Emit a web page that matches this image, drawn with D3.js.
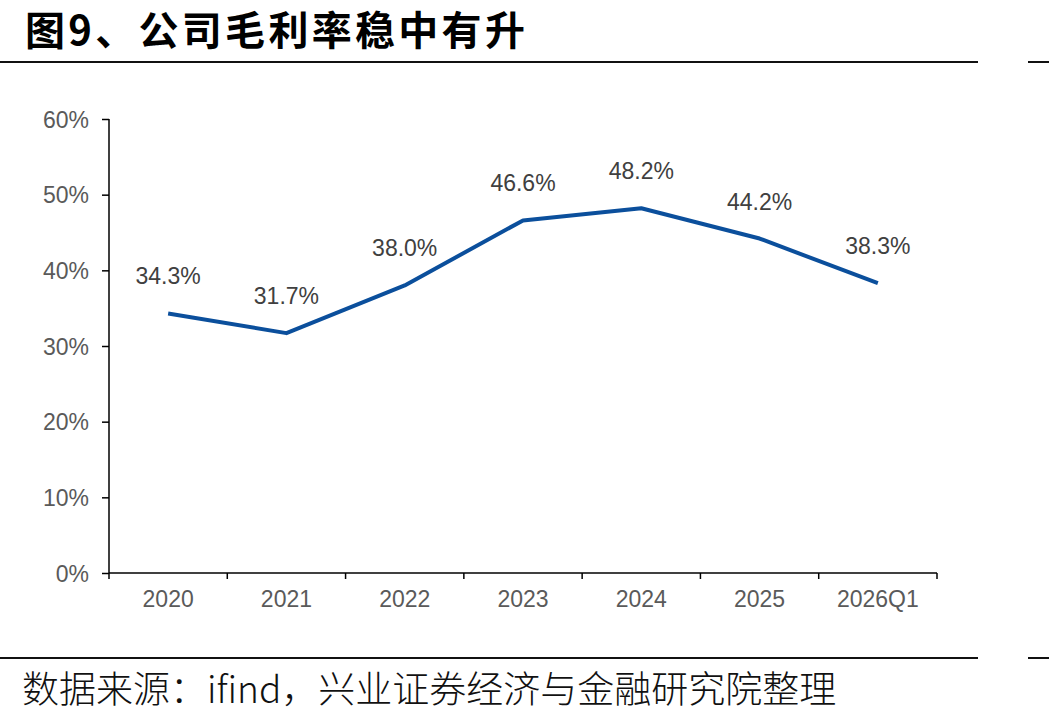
<!DOCTYPE html>
<html><head><meta charset="utf-8">
<script src="https://cdn.jsdelivr.net/npm/d3@7"></script>
<style>body{margin:0;background:#fff;}svg{display:block;}</style>
</head><body>
<script>
const categories = ["2020","2021","2022","2023","2024","2025","2026Q1"];
const grossMargin = [34.3, 31.7, 38.0, 46.6, 48.2, 44.2, 38.3];
const yTicks = [0,10,20,30,40,50,60];
const titleText = "图9、公司毛利率稳中有升";
const sourceText = "数据来源：ifind，兴业证券经济与金融研究院整理";

const W = 1049, H = 723;
const svg = d3.select("body").append("svg").attr("width", W).attr("height", H);

// Title
svg.append("text").attr("x", 25).attr("y", 45)
  .attr("font-family", "'Noto Sans CJK SC', 'Liberation Sans', sans-serif")
  .attr("font-weight", 700).attr("font-size", 40).attr("letter-spacing", 3.3)
  .attr("fill", "#000").text(titleText);

// Rules
[62, 658].forEach(y => {
  svg.append("line").attr("x1", 0).attr("x2", 978).attr("y1", y).attr("y2", y)
    .attr("stroke", "#111").attr("stroke-width", 2);
  svg.append("line").attr("x1", 1028).attr("x2", 1049).attr("y1", y).attr("y2", y)
    .attr("stroke", "#111").attr("stroke-width", 2);
});

// Source
svg.append("text").attr("x", 22).attr("y", 703)
  .attr("font-family", "'Noto Sans CJK SC', sans-serif")
  .attr("font-weight", 300).attr("font-size", 37)
  .attr("fill", "#111").text(sourceText);

const x = d3.scaleBand().domain(categories).range([109, 937]);
const y = d3.scaleLinear().domain([0, 60]).range([573, 119]);

const font = "'Liberation Sans', Arial, sans-serif";

// Y axis
const yAxis = svg.append("g").attr("transform", "translate(109,0)")
  .call(d3.axisLeft(y).tickValues(yTicks).tickSize(7).tickPadding(13).tickFormat(d => d + "%"));
yAxis.selectAll("text").attr("font-family", font).attr("font-size", 23).attr("fill", "#5a5a5a").attr("dy", "0.36em");
yAxis.selectAll("line").attr("stroke", "#000").attr("stroke-width", 1.5);
yAxis.select(".domain").attr("stroke", "#000").attr("stroke-width", 1.5).attr("d", "M0,119V573");

// X axis
const xAxis = svg.append("g").attr("transform", "translate(0,573)")
  .call(d3.axisBottom(x).tickSize(0).tickPadding(18));
xAxis.selectAll("text").attr("font-family", font).attr("font-size", 23).attr("fill", "#5a5a5a");
xAxis.select(".domain").attr("stroke", "#000").attr("stroke-width", 1.5).attr("d", "M109,0H937");
// boundary ticks
const bounds = categories.map(c => x(c)).concat([x(categories[categories.length-1]) + x.bandwidth()]);
xAxis.selectAll(".bt").data(bounds).enter().append("line").attr("class","bt")
  .attr("x1", d => d).attr("x2", d => d).attr("y1", 0).attr("y2", 6)
  .attr("stroke", "#000").attr("stroke-width", 1.5);

// Line
const pts = categories.map((c, i) => [x(c) + x.bandwidth()/2, y(grossMargin[i])]);
svg.append("path").attr("d", d3.line()(pts)).attr("fill", "none")
  .attr("stroke", "#0b4f9c").attr("stroke-width", 4).attr("stroke-linejoin", "round");

// Labels
svg.selectAll(".lbl").data(grossMargin).enter().append("text").attr("class", "lbl")
  .attr("x", (d, i) => x(categories[i]) + x.bandwidth()/2)
  .attr("y", d => y(d) - 29)
  .attr("text-anchor", "middle")
  .attr("font-family", font).attr("font-size", 23).attr("fill", "#404040")
  .text(d => d.toFixed(1) + "%");
</script>
</body></html>
